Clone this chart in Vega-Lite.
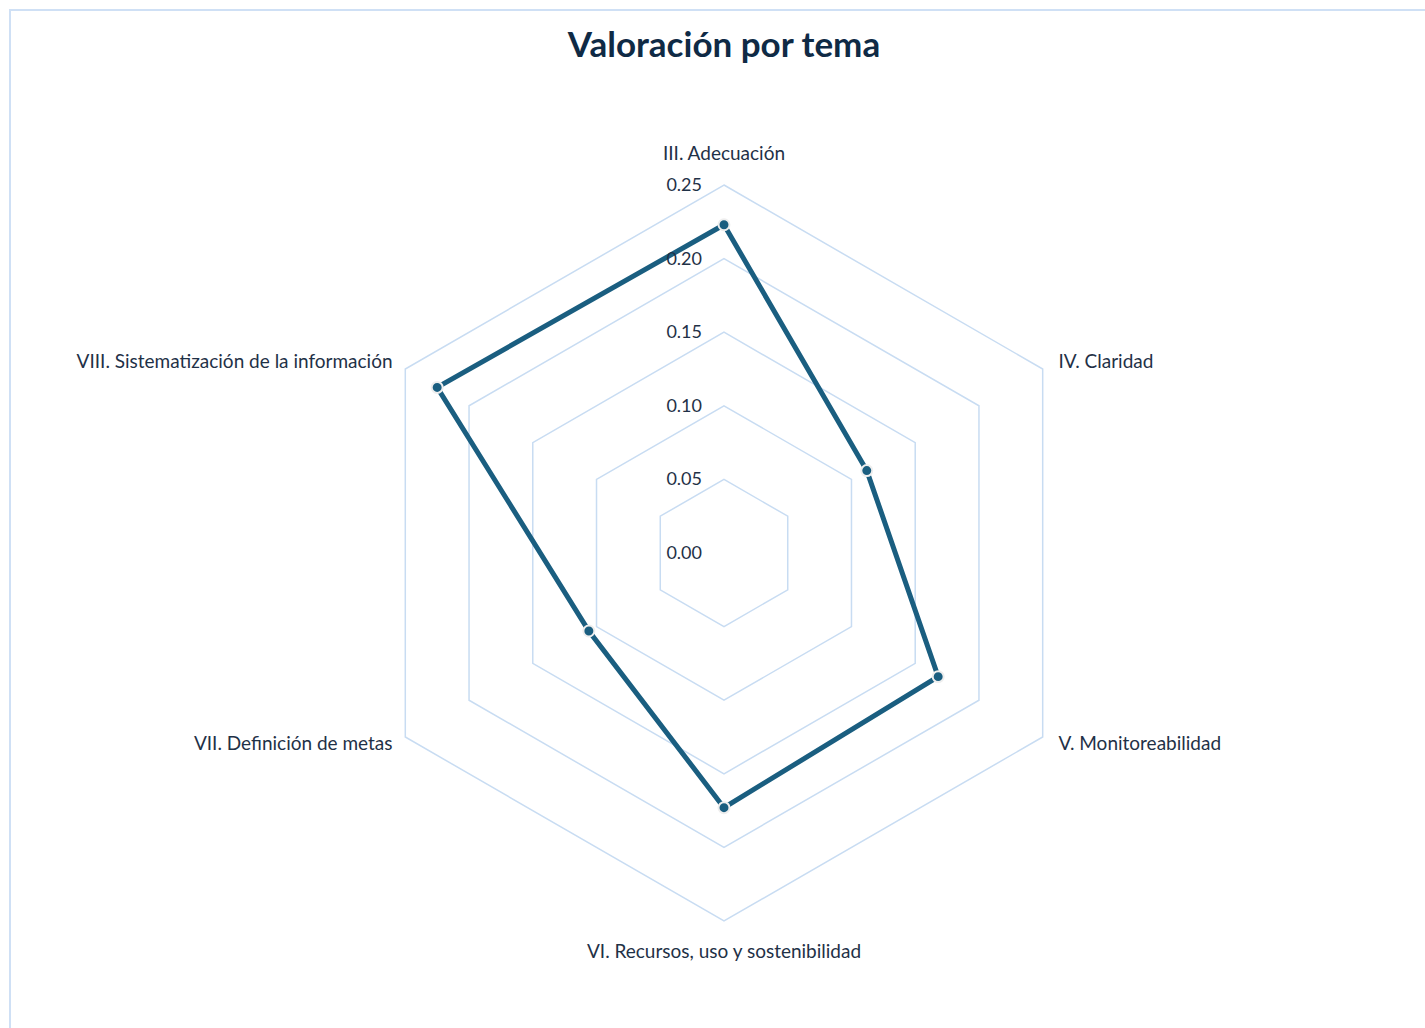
{
  "$schema": "https://vega.github.io/schema/vega-lite/v6.json",
  "width": 1420,
  "height": 1023,
  "autosize": {"type": "none"},
  "padding": {"left": 10, "top": 10, "right": -5, "bottom": -5},
  "background": "white",
  "config": {"view": {"stroke": "#cfe0f5", "strokeWidth": 2}, "font": "Lato"},
  "title": {"text": "Valoración por tema", "font": "Lato", "fontSize": 35, "fontWeight": "bold", "color": "#0f2a45", "anchor": "middle", "offset": -46, "baseline": "alphabetic", "dx": 4, "dy": 36},
  "datasets": {
    "temas": [
      {"tema": "III. Adecuación", "k": 0, "valor": 0.223},
      {"tema": "IV. Claridad", "k": 1, "valor": 0.112},
      {"tema": "V. Monitoreabilidad", "k": 2, "valor": 0.168},
      {"tema": "VI. Recursos, uso y sostenibilidad", "k": 3, "valor": 0.173},
      {"tema": "VII. Definición de metas", "k": 4, "valor": 0.106},
      {"tema": "VIII. Sistematización de la información", "k": 5, "valor": 0.225}
    ],
    "grid": [
      {"nivel": 0.05, "k": 0}, {"nivel": 0.05, "k": 1}, {"nivel": 0.05, "k": 2}, {"nivel": 0.05, "k": 3}, {"nivel": 0.05, "k": 4}, {"nivel": 0.05, "k": 5},
      {"nivel": 0.10, "k": 0}, {"nivel": 0.10, "k": 1}, {"nivel": 0.10, "k": 2}, {"nivel": 0.10, "k": 3}, {"nivel": 0.10, "k": 4}, {"nivel": 0.10, "k": 5},
      {"nivel": 0.15, "k": 0}, {"nivel": 0.15, "k": 1}, {"nivel": 0.15, "k": 2}, {"nivel": 0.15, "k": 3}, {"nivel": 0.15, "k": 4}, {"nivel": 0.15, "k": 5},
      {"nivel": 0.20, "k": 0}, {"nivel": 0.20, "k": 1}, {"nivel": 0.20, "k": 2}, {"nivel": 0.20, "k": 3}, {"nivel": 0.20, "k": 4}, {"nivel": 0.20, "k": 5},
      {"nivel": 0.25, "k": 0}, {"nivel": 0.25, "k": 1}, {"nivel": 0.25, "k": 2}, {"nivel": 0.25, "k": 3}, {"nivel": 0.25, "k": 4}, {"nivel": 0.25, "k": 5}
    ],
    "niveles": [
      {"nivel": 0.00}, {"nivel": 0.05}, {"nivel": 0.10}, {"nivel": 0.15}, {"nivel": 0.20}, {"nivel": 0.25}
    ]
  },
  "layer": [
    {
      "data": {"name": "grid"},
      "transform": [
        {"calculate": "datum.nivel * sin(datum.k * PI / 3)", "as": "x"},
        {"calculate": "datum.nivel * cos(datum.k * PI / 3)", "as": "y"}
      ],
      "mark": {"type": "line", "interpolate": "linear-closed", "stroke": "#c8dcf2", "strokeWidth": 1.5},
      "encoding": {
        "x": {"field": "x", "type": "quantitative", "scale": {"domain": [-0.48505, 0.47962], "nice": false, "zero": false}, "axis": null},
        "y": {"field": "y", "type": "quantitative", "scale": {"domain": [-0.32609, 0.36889], "nice": false, "zero": false}, "axis": null},
        "detail": {"field": "nivel", "type": "nominal"},
        "order": {"field": "k", "type": "quantitative"}
      }
    },
    {
      "data": {"name": "temas"},
      "transform": [
        {"calculate": "datum.valor * sin(datum.k * PI / 3)", "as": "x"},
        {"calculate": "datum.valor * cos(datum.k * PI / 3)", "as": "y"}
      ],
      "mark": {"type": "line", "interpolate": "linear-closed", "stroke": "#1a5e80", "strokeWidth": 5},
      "encoding": {
        "x": {"field": "x", "type": "quantitative"},
        "y": {"field": "y", "type": "quantitative"},
        "order": {"field": "k", "type": "quantitative"}
      }
    },
    {
      "data": {"name": "temas"},
      "transform": [
        {"calculate": "datum.valor * sin(datum.k * PI / 3)", "as": "x"},
        {"calculate": "datum.valor * cos(datum.k * PI / 3)", "as": "y"}
      ],
      "mark": {"type": "point", "filled": true, "fill": "#1a5e80", "stroke": "#eeeeee", "strokeWidth": 2, "size": 120, "opacity": 1, "fillOpacity": 1, "strokeOpacity": 1},
      "encoding": {
        "x": {"field": "x", "type": "quantitative"},
        "y": {"field": "y", "type": "quantitative"}
      }
    },
    {
      "data": {"name": "niveles"},
      "transform": [
        {"calculate": "0", "as": "x"}
      ],
      "mark": {"type": "text", "align": "right", "baseline": "middle", "dx": -22, "dy": 1, "fontSize": 18, "font": "Lato", "color": "#1f3147"},
      "encoding": {
        "x": {"field": "x", "type": "quantitative"},
        "y": {"field": "nivel", "type": "quantitative"},
        "text": {"field": "nivel", "type": "quantitative", "format": ".2f"}
      }
    },
    {
      "data": {"name": "temas"},
      "transform": [
        {"filter": "datum.k == 0 || datum.k == 3"},
        {"calculate": "0.271 * sin(datum.k * PI / 3)", "as": "x"},
        {"calculate": "0.271 * cos(datum.k * PI / 3)", "as": "y"}
      ],
      "mark": {"type": "text", "align": "center", "baseline": "middle", "fontSize": 19, "letterSpacing": 0.2, "font": "Lato", "color": "#1f3147"},
      "encoding": {
        "x": {"field": "x", "type": "quantitative"},
        "y": {"field": "y", "type": "quantitative"},
        "text": {"field": "tema", "type": "nominal"}
      }
    },
    {
      "data": {"name": "temas"},
      "transform": [
        {"filter": "datum.k == 1 || datum.k == 2"},
        {"calculate": "0.26 * sin(datum.k * PI / 3)", "as": "x"},
        {"calculate": "0.26 * cos(datum.k * PI / 3)", "as": "y"}
      ],
      "mark": {"type": "text", "align": "left", "baseline": "middle", "dx": 3, "fontSize": 19, "letterSpacing": 0.2, "font": "Lato", "color": "#1f3147"},
      "encoding": {
        "x": {"field": "x", "type": "quantitative"},
        "y": {"field": "y", "type": "quantitative"},
        "text": {"field": "tema", "type": "nominal"}
      }
    },
    {
      "data": {"name": "temas"},
      "transform": [
        {"filter": "datum.k == 4 || datum.k == 5"},
        {"calculate": "0.26 * sin(datum.k * PI / 3)", "as": "x"},
        {"calculate": "0.26 * cos(datum.k * PI / 3)", "as": "y"}
      ],
      "mark": {"type": "text", "align": "right", "baseline": "middle", "fontSize": 19, "letterSpacing": 0.2, "font": "Lato", "color": "#1f3147"},
      "encoding": {
        "x": {"field": "x", "type": "quantitative"},
        "y": {"field": "y", "type": "quantitative"},
        "text": {"field": "tema", "type": "nominal"}
      }
    }
  ]
}
